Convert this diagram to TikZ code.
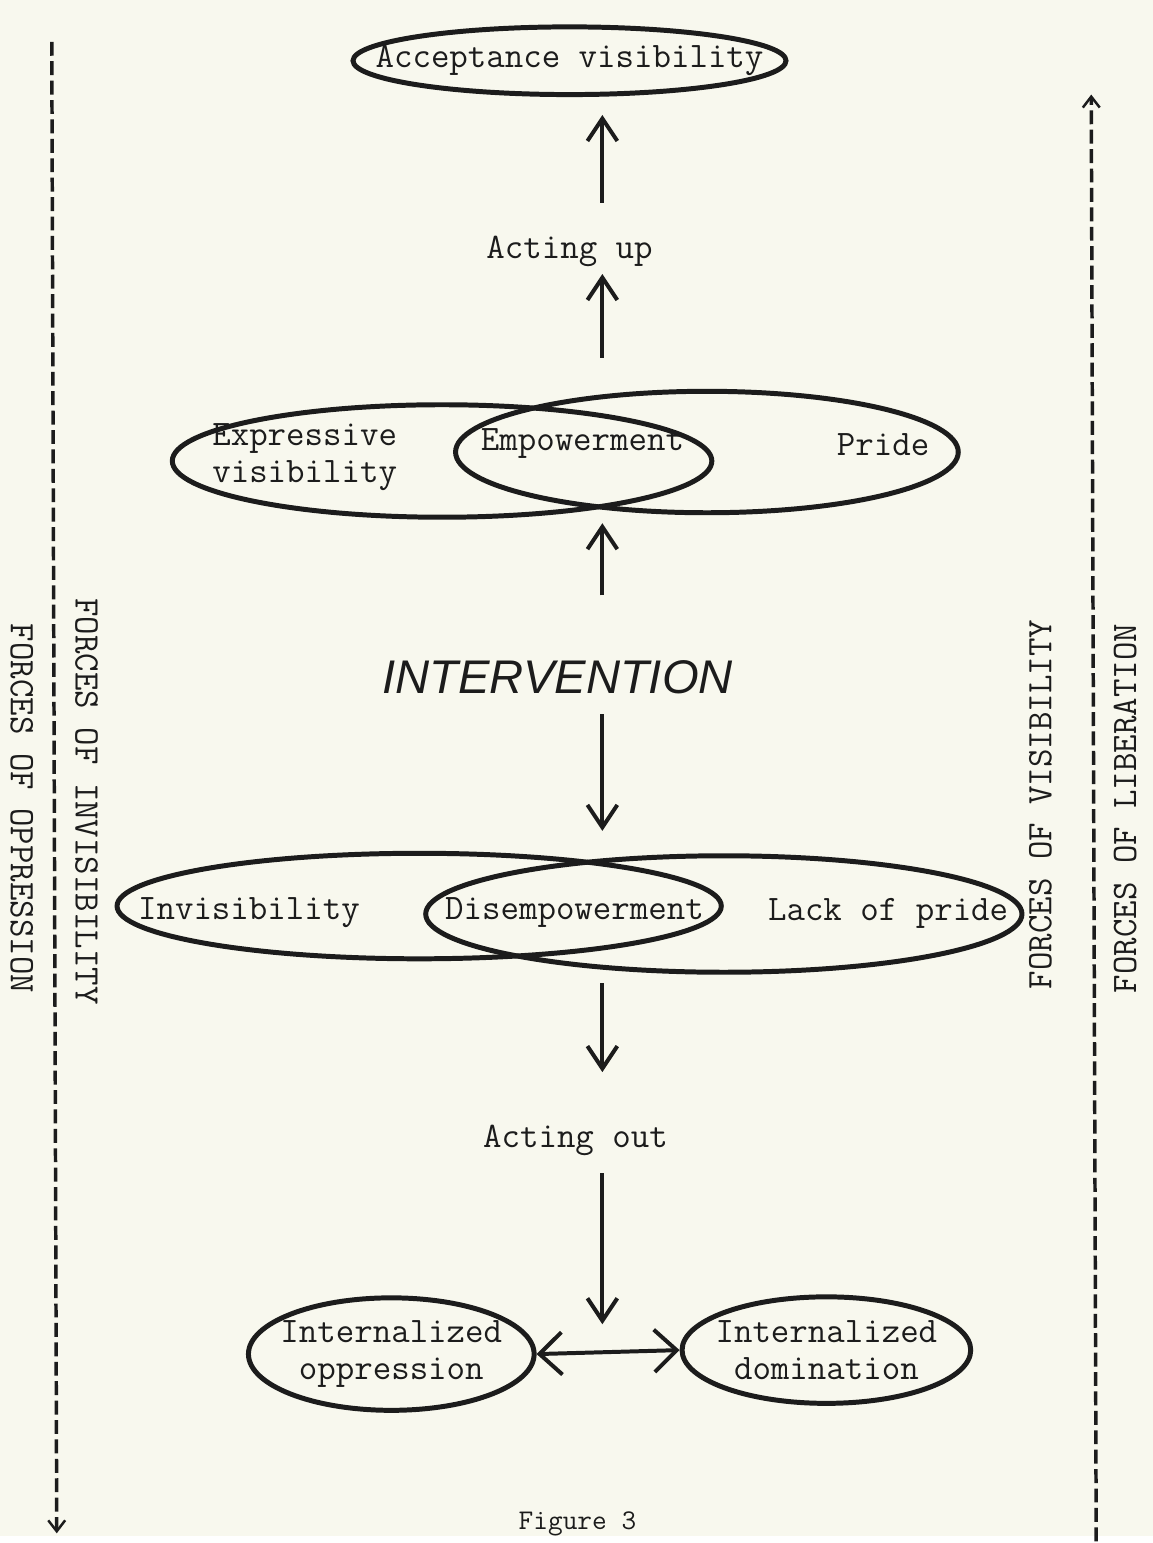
\documentclass[tikz,border=0pt]{standalone}
\usepackage{fontspec}
\newfontfamily\interfont{Liberation Sans}
\usepackage{tikz}
\usetikzlibrary{arrows.meta,shapes.geometric,calc}
\definecolor{paper}{HTML}{F8F8EE}
\definecolor{ink}{HTML}{1C1C1C}

\begin{document}
\begin{tikzpicture}[x=0.02cm,y=-0.02cm,font=\ttfamily\fontsize{20.5}{21}\selectfont,text=ink]
  \tikzstyle{blob}=[draw=ink,ellipse,line width=0.1cm,inner sep=0pt]
  \tikzstyle{word}=[inner sep=0pt,align=center]
  \tikzstyle{arr}=[draw=ink,line width=0.08cm,-{Straight Barb[length=0.45cm,width=0.6cm]}]
  \tikzstyle{dbl}=[draw=ink,line width=0.08cm,{Straight Barb[length=0.45cm,width=0.85cm]}-{Straight Barb[length=0.45cm,width=0.85cm]}]
  \tikzstyle{forces}=[draw=ink,line width=0.07cm,dash pattern=on 0.28cm off 0.11cm,-{Straight Barb[length=0.22cm,width=0.34cm,line width=0.05cm]}]
  \fill[paper] (0,0) rectangle (1158,1543);
  \coordinate (spine) at (605,0);

  % top
  \node[blob,minimum width=8.7cm,minimum height=1.36cm,label=center:{Acceptance visibility}] (accept) at (572,61) {};
  \node[word] (actup) at (572,253) {Acting up};

  % visibility side
  \node[blob,minimum width=10.84cm,minimum height=2.26cm] (exprE) at (444,463) {};
  \node[blob,minimum width=10.1cm,minimum height=2.44cm] (prideE) at (710,454) {};
  \node[word] (exprT) at (306,459) {Expressive\\visibility};
  \node[word] (empT) at (585,445) {Empowerment};
  \node[word] (prideT) at (887,447) {Pride};

  \node[word,font=\interfont\itshape\fontsize{27}{30}\selectfont] (interv) at (560,680) {INTERVENTION};

  % invisibility side
  \node[blob,minimum width=12.14cm,minimum height=2.12cm] (invisE) at (421,910) {};
  \node[blob,minimum width=11.98cm,minimum height=2.34cm] (lackE) at (727,918) {};
  \node[word] (invisT) at (250,917) {Invisibility};
  \node[word] (disT) at (577,917) {Disempowerment};
  \node[word] (lackT) at (892,917) {Lack of pride};

  \node[word] (actout) at (578,1145) {Acting out};

  \node[blob,minimum width=5.74cm,minimum height=2.26cm,label={[align=center]center:Internalized\\oppression}] (oppE) at (393,1360) {};
  \node[blob,minimum width=5.8cm,minimum height=2.14cm,label={[align=center]center:Internalized\\domination}] (domE) at (830,1356) {};

  % arrows along the middle
  \draw[arr,shorten <=0.67cm,shorten >=0.36cm] (actup.north -| spine) -- (accept.south -| spine);
  \draw[arr,shorten <=0.62cm,shorten >=0.13cm] (prideE.north -| spine) -- (actup.south -| spine);
  \draw[arr,shorten <=1.3cm,shorten >=0.16cm] (interv.north -| spine) -- (prideE.south -| spine);
  \draw[arr,shorten <=0.4cm,shorten >=0.45cm] (interv.south -| spine) -- (lackE.north -| spine);
  \draw[arr,shorten <=0.17cm,shorten >=1.05cm] (lackE.south -| spine) -- (actout.north -| spine);
  \draw[arr,shorten <=0.35cm,shorten >=0.52cm] (actout.south -| spine) -- (domE.west -| spine);
  \draw[dbl] (oppE.east) -- (domE.west);

  % side forces
  \coordinate (lefttop) at (52,42);
  \coordinate (leftbot) at (57,1540);
  \coordinate (righttop) at (1096,95);
  \coordinate (rightbot) at (1101,1548);
  \draw[forces] (lefttop) -- (leftbot);
  \draw[forces] (rightbot) -- (righttop);
  \node[word,rotate=-90] (oppress) at (22,812) {FORCES OF OPPRESSION};
  \node[word,rotate=-90] (invis) at (87,805) {FORCES OF INVISIBILITY};
  \node[word,rotate=90] (visib) at (1045,808) {FORCES OF VISIBILITY};
  \node[word,rotate=90] (liber) at (1130,812) {FORCES OF LIBERATION};

  \node[word,font=\ttfamily\fontsize{16.3}{17}\selectfont] (caption) at (580,1531) {Figure 3};
\end{tikzpicture}
\end{document}
